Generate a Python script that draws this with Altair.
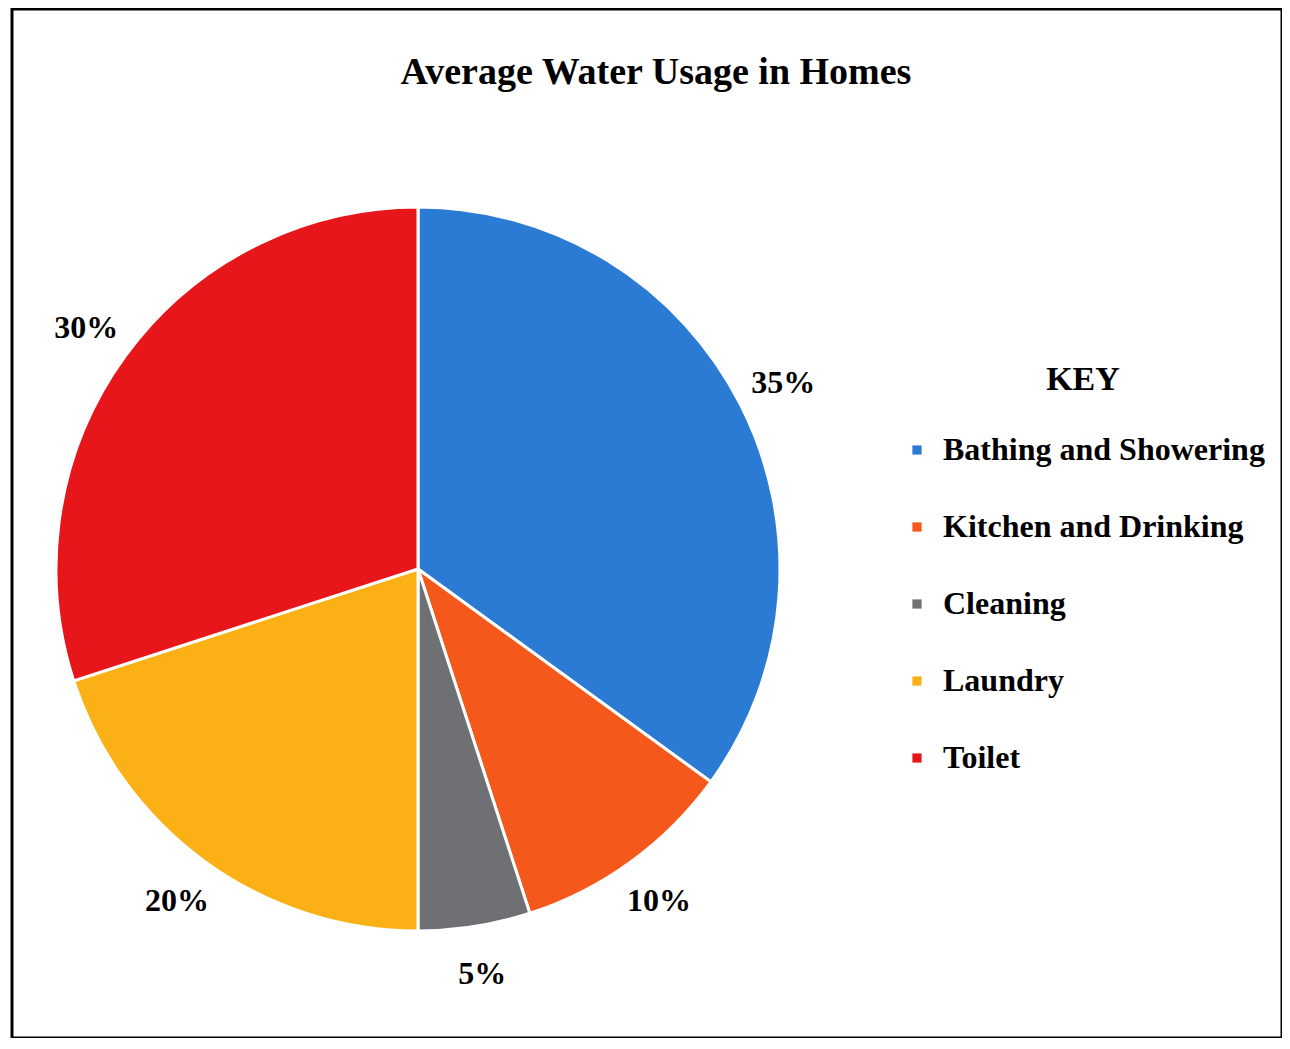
import altair as alt
import pandas as pd

categories = ["Bathing and Showering", "Kitchen and Drinking", "Cleaning", "Laundry", "Toilet"]
values = [35, 10, 5, 20, 30]
labels = ["35%", "10%", "5%", "20%", "30%"]
colors = ["#2b7bd4", "#f4581a", "#6f7074", "#fbb116", "#e6161b"]

df = pd.DataFrame({
    "category": categories,
    "value": values,
    "label": labels,
    "idx": list(range(len(categories))),
})

FONT = "Liberation Serif"
CX, CY = 406, 560

base = alt.Chart(df).encode(
    theta=alt.Theta("value:Q", stack=True),
    order=alt.Order("idx:Q"),
    x=alt.value(CX),
    y=alt.value(CY),
)

pie = base.mark_arc(outerRadius=362, stroke="white", strokeWidth=3).encode(
    color=alt.Color(
        "category:N",
        sort=categories,
        scale=alt.Scale(domain=categories, range=colors),
        legend=alt.Legend(
            title="KEY",
            orient="none",
            legendX=889,
            legendY=354,
            titleAnchor="middle",
            titleFont=FONT,
            titleFontSize=34,
            titleFontWeight="bold",
            titleColor="black",
            titlePadding=37,
            labelFont=FONT,
            labelFontSize=32,
            labelFontWeight="bold",
            labelColor="black",
            labelLimit=0,
            labelOffset=10,
            symbolType="square",
            symbolSize=85,
            symbolStrokeWidth=0,
            rowPadding=45,
        ),
    )
)

text = base.mark_text(
    radius=410, font=FONT, fontSize=32, fontWeight="bold", color="black"
).encode(text="label:N")

chart = (
    alt.layer(pie, text)
    .properties(
        width=1270,
        height=1029,
        padding={"left": 4, "top": 1, "right": 0, "bottom": 0},
        autosize=alt.AutoSizeParams(type="none"),
        title=alt.TitleParams(
            "Average Water Usage in Homes",
            font=FONT,
            fontSize=38,
            fontWeight="bold",
            color="black",
            anchor="middle",
            baseline="alphabetic",
            offset=-113,
            dx=9,
        ),
    )
    .configure(
        background="white",
        view=alt.ViewConfig(stroke="black", strokeWidth=3),
    )
)

chart.save("out.html", embed_options={"renderer": "svg", "actions": False})
